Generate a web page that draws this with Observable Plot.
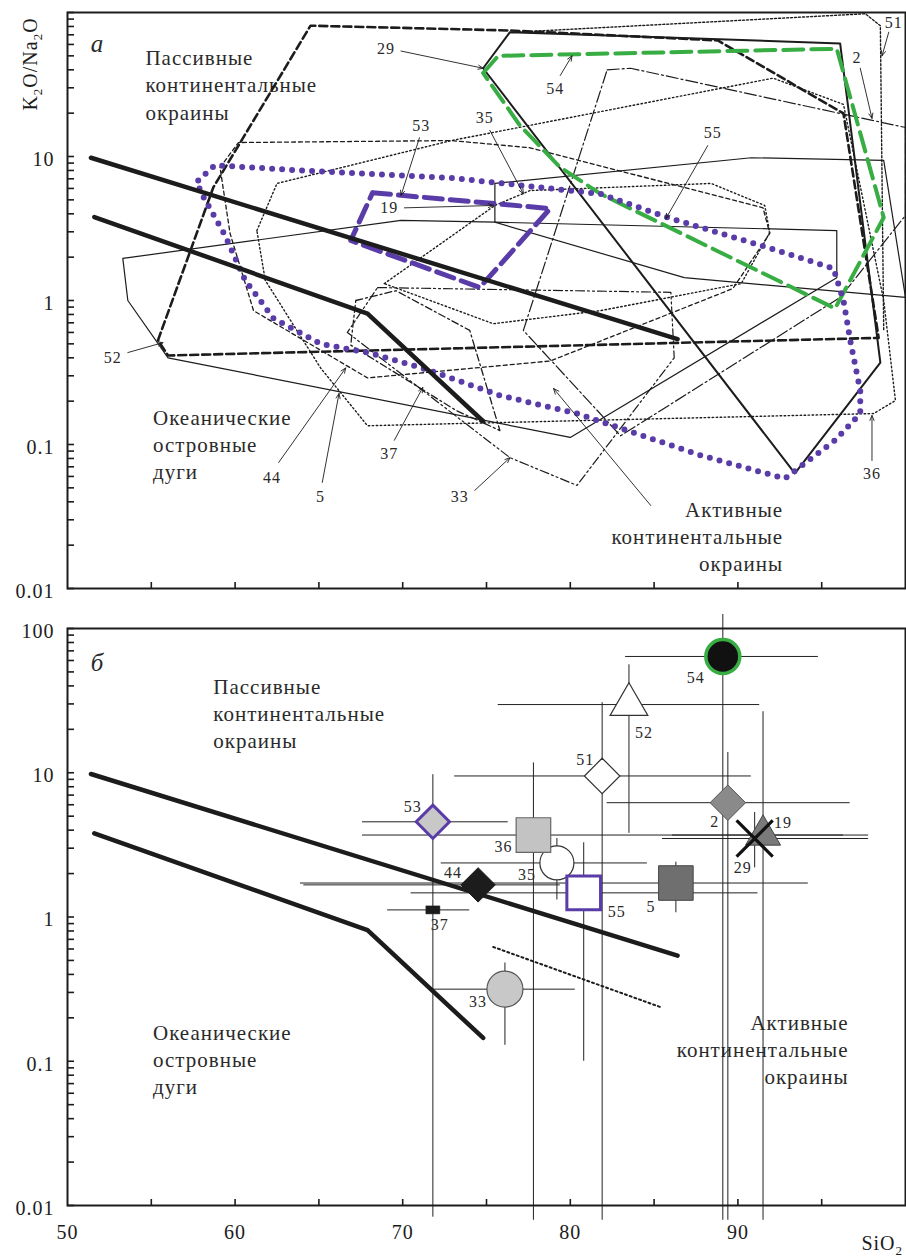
<!DOCTYPE html>
<html>
<head>
<meta charset="utf-8">
<script src="https://cdn.jsdelivr.net/npm/d3@7"></script>
<script src="https://cdn.jsdelivr.net/npm/@observablehq/plot@0.6"></script>
<style>
  body { margin: 0; background: #fff; }
  #chart { width: 906px; }
  #chart svg { display: block; }
  #chart svg text { font-family: 'Liberation Serif', 'Times New Roman', serif !important; letter-spacing: 1px; }
</style>
</head>
<body>
<div id="chart"></div>
<script>
// K2O/Na2O vs SiO2 discrimination diagram (tectonic setting of sandstones)

// ---- boundaries between settings (SiO2 wt.%, K2O/Na2O) ----
const upperBoundary = [[51.4, 9.8], [86.4, 0.54]];
const lowerBoundary = [[51.6, 3.8], [67.9, 0.81], [74.8, 0.145]];
const dottedTrend = [[75.4, 0.62], [85.4, 0.237]];

// ---- panel а: compositional fields of the sample groups ----
const field29 = [[74.8, 41], [76.4, 73], [96.1, 61], [98.5, 0.37], [93.4, 0.063]];
const field54 = [[74.8, 38], [75.7, 50], [95.9, 56], [98.7, 3.77], [95.8, 0.88], [81.8, 5.5], [79.4, 8.4], [77.0, 16.4]];
const field52 = [[55.4, 0.53], [58.7, 6.1], [64.5, 81], [76.4, 75], [88.8, 64], [96.3, 19.9], [98.4, 0.55], [56.0, 0.415]];
const field5 = [[53.3, 1.96], [69.9, 3.6], [75.5, 3.5], [95.9, 3.06], [95.9, 1.44], [80.0, 0.112], [56.0, 0.40], [53.6, 1.0]];
const field19 = [[75.5, 6.5], [90.8, 9.8], [98.7, 9.4], [100, 1.05], [86.8, 1.44], [75.5, 3.5]];
const field53 = [[68.2, 5.6], [78.8, 4.35], [74.6, 1.23], [66.9, 2.61]];
const field55 = [[57.8, 6.8], [58.8, 8.7], [63.9, 8.0], [72.9, 7.1], [81.8, 5.5], [85.8, 3.77], [91.8, 2.33], [95.7, 1.67],
  [96.3, 1.0], [96.7, 0.53], [97.3, 0.237], [97.3, 0.164], [95.8, 0.107], [92.8, 0.058], [87.8, 0.084], [80.4, 0.164],
  [75.8, 0.219], [71.5, 0.33], [68.1, 0.43], [65.1, 0.50], [62.3, 0.75], [60.6, 1.38], [59.4, 2.83], [57.9, 5.8]];
const field36 = [[61.3, 3.06], [62.5, 6.5], [72.9, 12.9], [92.1, 35], [96.3, 23], [98.7, 1.0], [99.4, 0.202], [98.1, 0.164],
  [67.9, 0.135], [65.1, 0.34], [61.8, 1.38]];
const field51 = [[76.7, 73], [97.6, 98], [98.5, 81], [98.7, 0.62]];
const field2 = [[82.2, 40], [83.6, 41], [96.1, 19.9], [100, 15.9], [100, 3.9], [96.1, 1.05], [83.0, 0.115], [77.2, 0.62]];
const field33 = [[68.5, 1.23], [86.0, 1.14], [86.2, 0.40], [80.4, 0.052], [76.4, 0.081], [66.7, 0.60]];
const field35 = [[68.9, 1.31], [75.5, 4.57], [77.6, 5.8], [88.4, 6.5], [91.6, 4.57], [91.9, 2.97], [90.2, 1.31], [81.8, 0.85], [75.4, 0.69]];
const field44 = [[59.1, 8.4], [60.2, 12.5], [72.9, 12.9], [77.6, 11.5], [91.5, 4.4], [91.9, 2.92], [89.7, 1.21], [78.8, 0.38],
  [67.9, 0.29], [61.1, 0.85], [59.7, 2.92]];
const field37 = [[67.2, 1.0], [69.6, 1.17], [74.0, 0.62], [75.8, 0.125], [73.2, 0.172], [66.9, 0.49]];

// field numbers of panel а with their leader arrows
const annText = ["29", "54", "2", "51", "53", "19", "35", "55", "52", "44", "5", "37", "33", "36"];
const annX = [69.0, 79.1, 97.1, 99.3, 71.1, 69.2, 74.9, 88.5, 52.7, 62.2, 65.1, 69.2, 73.4, 98.0];
const annY = [56, 29.7, 48.7, 85, 16.4, 4.4, 18.4, 14.7, 0.40, 0.059, 0.043, 0.0866, 0.043, 0.063];
const arrowX1 = [69.9, 79.4, 97.3, 99.0, 71.0, 70.1, 75.2, 88.2, 53.6, 62.6, 65.2, 69.5, 74.3, 98.0];
const arrowY1 = [54, 36.5, 41, 73, 13.5, 4.4, 15.2, 11.9, 0.435, 0.075, 0.0545, 0.107, 0.048, 0.0774];
const arrowX2 = [74.8, 80.1, 98.0, 98.6, 69.9, 75.4, 77.2, 85.7, 55.7, 66.6, 66.2, 71.2, 76.4, 98.0];
const arrowY2 = [41, 50, 18.4, 50, 5.36, 4.57, 5.5, 3.7, 0.51, 0.34, 0.226, 0.249, 0.081, 0.159];
const activeArrow = [[84.8, 0.0377], [79.0, 0.245]];

// ---- panel б: group means with ranges ----
const ptId = ["35", "36", "55", "33", "37", "44", "53", "51", "52", "54", "2", "5", "19", "29"];
const ptSiO2 = [79.2, 77.8, 80.8, 76.1, 71.8, 74.5, 71.8, 81.9, 83.5, 89.1, 89.4, 86.3, 91.5, 91.0];
const ptRatio = [2.37, 3.7, 1.47, 0.316, 1.12, 1.67, 4.57, 9.5, 29.7, 64, 6.2, 1.72, 3.7, 3.5];
const sio2Lo = [72.3, 67.6, 70.5, 71.8, 69.1, 64.1, 67.6, 73.1, 75.7, 83.3, 82.2, 63.9, 86.1, 85.5];
const sio2Hi = [84.6, 97.8, 91.2, 80.3, 74.0, 79.4, 76.3, 90.8, 91.3, 94.8, 96.7, 94.2, 96.3, 97.8];
const ratioLo = [1.31, 0.0079, 0.10, 0.129, null, null, 0.0083, 0.0079, 3.8, 0.0079, 0.0079, 1.07, 0.0079, 2.19];
const ratioHi = [3.5, 11.7, 3.27, 0.48, null, null, 9.7, 30.6, 56, 125, 13.8, 2.4, 26.5, 5.3];

// region names
const regionText = ["Пассивные\nконтинентальные\nокраины", "Океанические\nостровные\nдуги", "Активные\nконтинентальные\nокраины"];
const regionAX = [54.65, 55.1, 92.7];
const regionAY = [32, 0.102, 0.0233];
const regionBX = [58.7, 55.1, 96.6];
const regionBY = [26.1, 0.105, 0.123];

// ---- styling ----
const serif = "'Liberation Serif', 'Times New Roman', serif";
const ink = "#1c1c1c";
const green = "#38ad44";
const purple = "#5a3ca8";

const markerStyle = {
  "35": {symbol: "circle", r: 17, fill: "white", stroke: "#333", strokeWidth: 1.2},
  "36": {symbol: "square", r: 19.5, fill: "#c3c3c3", stroke: "#666", strokeWidth: 1.2},
  "55": {symbol: "square", r: 19, fill: "white", stroke: purple, strokeWidth: 3},
  "33": {symbol: "circle", r: 18, fill: "#c8c8c8", stroke: "#555", strokeWidth: 1.2},
  "37": {symbol: {draw(ctx) { ctx.rect(-7, -4, 14, 8); }}, r: 5, fill: ink, stroke: ink, strokeWidth: 0.5},
  "44": {symbol: "diamond2", r: 15.5, fill: ink, stroke: ink, strokeWidth: 1},
  "53": {symbol: "diamond2", r: 15, fill: "#c8c8c8", stroke: purple, strokeWidth: 3},
  "51": {symbol: "diamond2", r: 16, fill: "white", stroke: "#333", strokeWidth: 1.2},
  "52": {symbol: "triangle", r: 14, fill: "white", stroke: "#333", strokeWidth: 1.2},
  "54": {symbol: "circle", r: 17, fill: "#111", stroke: green, strokeWidth: 3.5},
  "2": {symbol: "diamond2", r: 16, fill: "#8a8a8a", stroke: "#555", strokeWidth: 1},
  "5": {symbol: "square", r: 19.5, fill: "#6f6f6f", stroke: "#444", strokeWidth: 1},
  "19": {symbol: "triangle", r: 13, fill: "#7a7a7a", stroke: "#444", strokeWidth: 1},
  "29": {symbol: "times", r: 16.5, fill: "none", stroke: "#111", strokeWidth: 3.2}
};
const labelDx = {"35": -30, "36": -30, "55": 33, "33": -27, "37": 7, "44": -25, "53": -20, "51": -17, "52": 15, "54": -27, "2": -13, "5": -25, "19": 20, "29": -12};
const labelDy = {"35": 12, "36": 12, "55": 19, "33": 13, "37": 15, "44": -12, "53": -15, "51": -16, "52": 28, "54": 21, "2": 19, "5": 24, "19": -12, "29": 29};

const xTicks = [55, 60, 65, 70, 75, 80, 85, 90, 95];
const xLabels = [50, 60, 70, 80, 90];
const yTicks = d3.range(-2, 2).flatMap(e => d3.range(1, 10).map(m => +(m * 10 ** e).toPrecision(3))).concat([100]);

const xy = {x: d => d[0], y: d => d[1]};
const lineOf = (pts, opts, closePath = true) =>
  Plot.line(closePath ? [...pts, pts[0]] : pts, {...xy, stroke: ink, strokeWidth: 1.1, strokeLinejoin: "round", ...opts});

function axes(yLabels, withXLabels) {
  const m = [
    Plot.axisY({ticks: yTicks, tickSize: -7, tickFormat: () => "", stroke: ink, strokeWidth: 1.6, label: null}),
    Plot.axisY({ticks: yLabels, tickSize: 0, tickPadding: 13, tickFormat: d => String(d), fontSize: 20, dy: 3, label: null, fill: ink, fontFamily: serif}),
    Plot.axisX({ticks: xTicks, tickSize: -6, tickFormat: () => "", stroke: ink, strokeWidth: 1.6, label: null})
  ];
  if (withXLabels) m.push(Plot.axisX({ticks: xLabels, tickSize: 0, tickPadding: 19, fontSize: 20, label: null, fill: ink, fontFamily: serif}));
  return m;
}

function regionMarks(xs, ys, activeLabel) {
  return [0, 1, 2].map(i => Plot.text([i], {
    x: () => xs[i], y: () => ys[i], text: () => regionText[i],
    textAnchor: i === 2 ? "end" : "start", lineAnchor: "middle", lineHeight: 1.29,
    fontSize: 21, fill: "#2a2a2a", fontFamily: serif,
    ariaLabel: i === 2 && activeLabel ? "active-margins" : undefined
  }));
}

const boundaries = [
  Plot.line(upperBoundary, {...xy, stroke: ink, strokeWidth: 4.5}),
  Plot.line(lowerBoundary, {...xy, stroke: ink, strokeWidth: 4.5, strokeLinejoin: "round"})
];

const common = {
  width: 906,
  marginLeft: 67, marginRight: 1,
  x: {domain: [50, 100]},
  y: {type: "log", domain: [0.01, 100]},
  style: {fontFamily: serif, background: "white", color: ink}
};

const idx = d3.range(annText.length);

const plotA = Plot.plot({
  ...common,
  height: 604, marginTop: 12, marginBottom: 16,
  marks: [
    ...regionMarks(regionAX, regionAY, false),
    lineOf(field36, {strokeWidth: 1.4, strokeDasharray: "1.5,2.5"}),
    lineOf(field51, {strokeWidth: 1.4, strokeDasharray: "2,2"}, false),
    lineOf(field35, {strokeWidth: 1.4, strokeDasharray: "1.5,2.5"}),
    lineOf(field44, {strokeWidth: 1.3, strokeDasharray: "4,3"}),
    lineOf(field2, {strokeWidth: 1.2, strokeDasharray: "12,3,2,3"}),
    lineOf(field33, {strokeWidth: 1.2, strokeDasharray: "9,3,2,3,2,3"}),
    lineOf(field37, {strokeWidth: 1.3, strokeDasharray: "7,3,2,3"}),
    lineOf(field5, {strokeWidth: 1.2}),
    lineOf(field19, {strokeWidth: 1.2}),
    lineOf(field52, {strokeWidth: 2.6, strokeDasharray: "8,4"}),
    lineOf(field29, {strokeWidth: 2}),
    lineOf(field54, {stroke: green, strokeWidth: 4, strokeDasharray: "20,8"}),
    lineOf(field53, {stroke: purple, strokeWidth: 5, strokeDasharray: "18,8"}),
    lineOf(field55, {stroke: purple, strokeWidth: 6, strokeDasharray: "0,10", strokeLinecap: "round"}),
    ...boundaries,
    Plot.arrow(idx, {x1: i => arrowX1[i], y1: i => arrowY1[i], x2: i => arrowX2[i], y2: i => arrowY2[i],
      stroke: ink, strokeWidth: 0.9, headLength: 9, headAngle: 45}),
    Plot.arrow([0], {x1: () => activeArrow[0][0], y1: () => activeArrow[0][1], x2: () => activeArrow[1][0], y2: () => activeArrow[1][1],
      stroke: ink, strokeWidth: 0.9, headLength: 10, headAngle: 45}),
    Plot.text(idx, {x: i => annX[i], y: i => annY[i], text: i => annText[i], fontSize: 16, fill: "#2a2a2a", fontFamily: serif}),
    Plot.text(["а"], {text: d => d, frameAnchor: "top-left", dx: 30, dy: 31, textAnchor: "middle", lineAnchor: "middle",
      fontSize: 25, fontStyle: "italic", fill: "#2a2a2a", fontFamily: serif}),
    Plot.frame({stroke: ink, strokeWidth: 2}),
    ...axes([0.01, 0.1, 1, 10], false)
  ]
});

const pIdx = d3.range(ptId.length);
const vIdx = pIdx.filter(i => ratioHi[i] != null);

const plotB = Plot.plot({
  ...common,
  height: 654, marginTop: 24, marginBottom: 53,
  marks: [
    ...regionMarks(regionBX, regionBY, true),
    Plot.ruleY(pIdx, {y: i => ptRatio[i], x1: i => sio2Lo[i], x2: i => sio2Hi[i], stroke: "#222", strokeWidth: 1}),
    Plot.ruleX(vIdx, {x: i => ptSiO2[i], y1: i => ratioLo[i], y2: i => ratioHi[i], stroke: "#222", strokeWidth: 1}),
    ...boundaries,
    Plot.line(dottedTrend, {...xy, stroke: ink, strokeWidth: 2, strokeDasharray: "2,3"}),
    ...pIdx.map(i => Plot.dot([i], {x: () => ptSiO2[i], y: () => ptRatio[i], ...markerStyle[ptId[i]]})),
    ...pIdx.map(i => Plot.text([i], {x: () => ptSiO2[i], y: () => ptRatio[i], text: () => ptId[i],
      dx: labelDx[ptId[i]], dy: labelDy[ptId[i]], fontSize: 16, fill: "#2a2a2a", fontFamily: serif})),
    Plot.text(["б"], {text: d => d, frameAnchor: "top-left", dx: 30, dy: 34, textAnchor: "middle", lineAnchor: "middle",
      fontSize: 25, fontStyle: "italic", fill: "#2a2a2a", fontFamily: serif}),
    Plot.frame({stroke: ink, strokeWidth: 2}),
    ...axes([0.01, 0.1, 1, 10, 100], true)
  ]
});

const chart = document.getElementById("chart");
chart.append(plotA, plotB);

// opaque box behind the active-margin label of panel б
const activeGroup = plotB.querySelector('g[aria-label="active-margins"]');
if (activeGroup) {
  const bb = activeGroup.getBBox();
  const rect = document.createElementNS("http://www.w3.org/2000/svg", "rect");
  rect.setAttribute("x", bb.x - 8);
  rect.setAttribute("y", bb.y - 6);
  rect.setAttribute("width", bb.width + 14);
  rect.setAttribute("height", bb.height + 8);
  rect.setAttribute("fill", "white");
  if (activeGroup.getAttribute("transform")) rect.setAttribute("transform", activeGroup.getAttribute("transform"));
  activeGroup.parentNode.insertBefore(rect, activeGroup);
}

// axis titles with chemical subscripts
function addFormula(svg, x, y, parts, rotate, anchor) {
  const t = d3.select(svg).append("text")
    .attr("transform", `translate(${x},${y})` + (rotate ? " rotate(-90)" : ""))
    .attr("text-anchor", anchor)
    .attr("font-family", serif).attr("font-size", 20).attr("fill", ink);
  let shift = 0;
  for (const [s, sub] of parts) {
    const target = sub ? 5 : 0;
    t.append("tspan").attr("dy", target - shift).attr("font-size", sub ? 13 : 20).text(s);
    shift = target;
  }
}
addFormula(plotA, 37, 64, [["K", 0], ["2", 1], ["O/Na", 0], ["2", 1], ["O", 0]], true, "middle");
addFormula(plotB, 903, 646, [["SiO", 0], ["2", 1]], false, "end");
</script>
</body>
</html>
